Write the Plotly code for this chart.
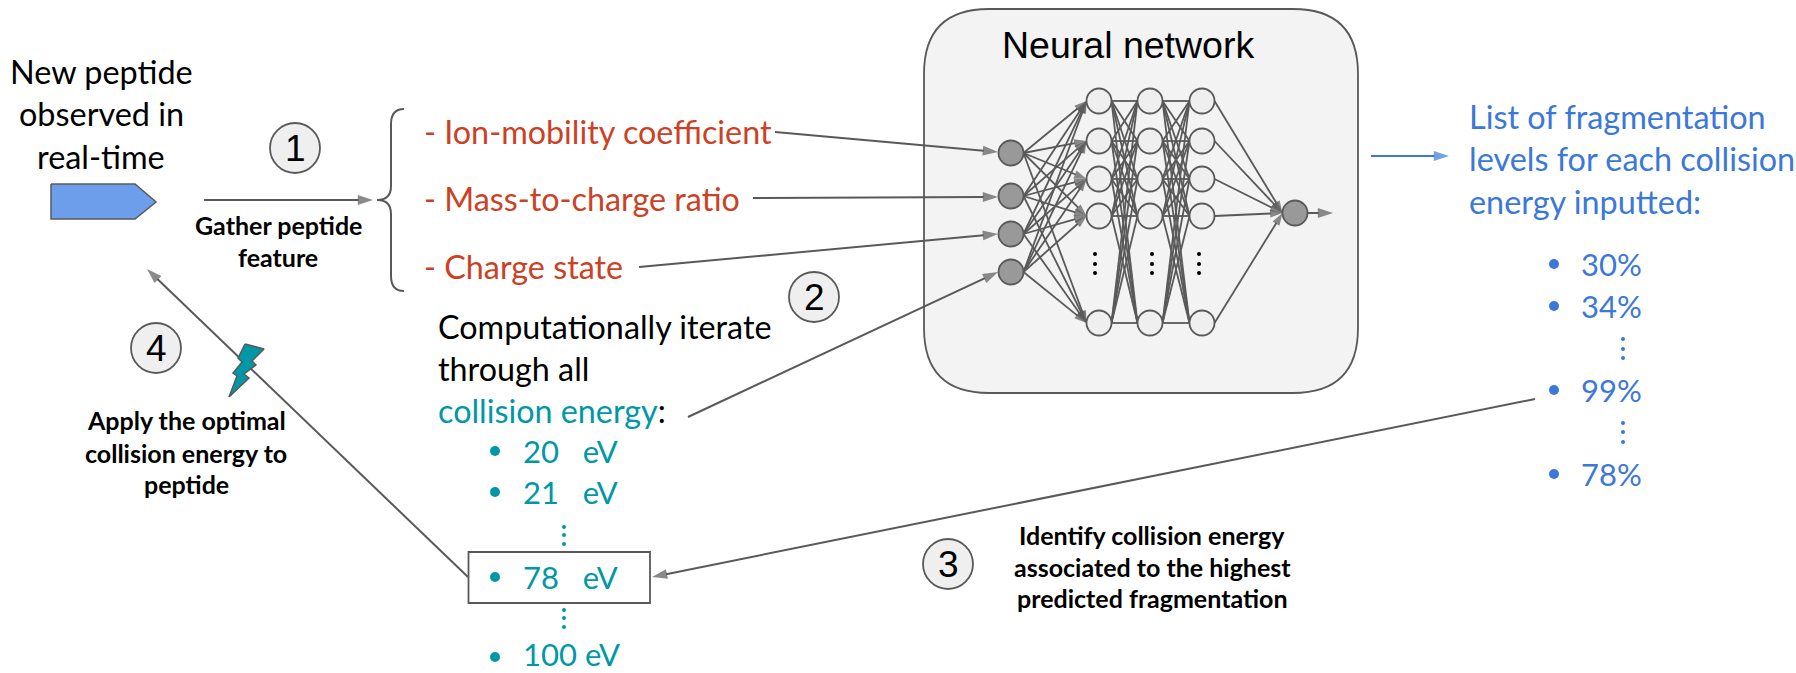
import plotly.graph_objects as go

W, H = 1796, 673
GREY = '#595959'
TEAL = '#0097a7'
BLUE = '#3c78d8'
RED = '#cc4125'
BODY_FONT = 'Lato'
SHAPE_FONT = 'Liberation Sans'

# network nodes
input_x = 1011
input_y = [153, 196, 234, 272]
hidden_x = [1099, 1150, 1202]
hidden_y = [101, 141, 179, 216, 323]
output_x = 1295
output_y = 213
node_r = 12.5

# text
peptide_lines = ['New peptide', 'observed in', 'real-time']
peptide_y = [71, 113, 156]
feature_lines = ['- Ion-mobility coefficient', '- Mass-to-charge ratio', '- Charge state']
feature_y = [131, 198, 266]
iterate_lines = ['Computationally iterate', 'through all',
                 f"<span style='color:{TEAL}'>collision energy</span>:"]
iterate_y = [326, 368, 410]
energy_labels = ['20\u00a0\u00a0\u00a0eV', '21\u00a0\u00a0\u00a0eV', '78\u00a0\u00a0\u00a0eV', '100\u00a0eV']
energy_y = [451, 492, 577, 654]
energy_bullet_y = [451, 492, 577, 657]
frag_lines = ['List of fragmentation', 'levels for each collision', 'energy inputted:']
frag_y = [116, 158, 201]
frag_labels = ['30%', '34%', '99%', '78%']
frag_label_y = [264, 306, 390, 474]
gather_lines = ['Gather peptide', 'feature']
gather_y = [225, 257]
apply_lines = ['Apply the optimal', 'collision energy to', 'peptide']
apply_y = [420, 453, 484]
identify_lines = ['Identify collision energy', 'associated to the highest', 'predicted fragmentation']
identify_y = [535, 567, 598]

# numbered steps
step_labels = ['1', '2', '3', '4']
step_x = [295, 814, 948, 156]
step_y = [148, 297, 564, 348]

# long connectors: x0, y0, x1, y1
grey_arrows = [
    (204, 200, 373, 200),
    (775, 132, 998, 152),
    (753, 198, 998, 197),
    (639, 267, 998, 234),
    (688, 417, 998, 272),
    (468, 577, 147, 269),
    (1535, 399, 652, 577),
    (1308, 213, 1333, 213),
]
blue_arrow = (1371, 156, 1449, 156)

bolt_x = [245, 264, 252, 256, 244, 249, 229, 237, 233, 242, 238, 245]
bolt_y = [344, 349, 361, 365, 374, 378, 397, 376, 373, 362, 358, 344]
pentagon_x = [51, 135, 156, 135, 51, 51]
pentagon_y = [184, 184, 202, 219, 219, 184]


def add_arrow(fig, x0, y0, x1, y1, color=GREY, width=2, size=16):
    fig.add_trace(go.Scatter(
        x=[x0, x1], y=[y0, y1],
        mode='lines+markers',
        line=dict(color=color, width=width),
        marker=dict(symbol='arrow', size=[0, size], angleref='previous',
                    color=color, line=dict(width=0)),
    ))


def add_lines(fig, xs, ys, width=1.8):
    fig.add_trace(go.Scatter(x=xs, y=ys, mode='lines',
                             line=dict(color=GREY, width=width)))


def add_nodes(fig, xs, ys, fill, size=2 * node_r):
    fig.add_trace(go.Scatter(x=xs, y=ys, mode='markers',
                             marker=dict(size=size, color=fill,
                                         line=dict(color=GREY, width=1.8))))


def add_dots(fig, xs, ys, color, size):
    fig.add_trace(go.Scatter(x=xs, y=ys, mode='markers',
                             marker=dict(size=size, color=color, line=dict(width=0))))


def add_text(fig, text, x, y, size, color='#000000', anchor='center', bold=False, font=BODY_FONT):
    if bold:
        text = f'<b>{text}</b>'
    fig.add_annotation(x=x, y=y, text=text, showarrow=False, xanchor=anchor, yanchor='middle',
                       font=dict(family=font, size=size, color=color))


fig = go.Figure()

# neural network panel
fig.add_shape(type='path', layer='below',
              path='M 989,9 L 1293,9 Q 1358,9 1358,74 L 1358,328 Q 1358,393 1293,393 '
                   'L 989,393 Q 924,393 924,328 L 924,74 Q 924,9 989,9 Z',
              fillcolor='#f3f3f3', line=dict(color=GREY, width=1.8))

# hidden-to-hidden edges
for a, b in zip(hidden_x[:-1], hidden_x[1:]):
    xs, ys = [], []
    for y0 in hidden_y:
        for y1 in hidden_y:
            xs += [a + node_r, b - node_r, None]
            ys += [y0, y1, None]
    add_lines(fig, xs, ys)

# input and output edges with arrow heads
for y0 in input_y:
    for y1 in hidden_y:
        add_arrow(fig, input_x + node_r, y0, hidden_x[0] - node_r, y1, width=1.8, size=13)
for y0 in hidden_y:
    add_arrow(fig, hidden_x[-1] + node_r, y0, output_x - node_r, output_y, width=1.8, size=13)

add_nodes(fig, [input_x] * len(input_y), input_y, '#999999')
for x in hidden_x:
    add_nodes(fig, [x] * len(hidden_y), hidden_y, '#efefef')
add_nodes(fig, [output_x], [output_y], '#999999')

# ellipsis between hidden rows
add_dots(fig, [1095] * 3 + [1152] * 3 + [1199] * 3, [254, 264, 273] * 3, '#000000', 4)

# connectors
for a in grey_arrows:
    add_arrow(fig, *a)
add_arrow(fig, *blue_arrow, color=BLUE)

# pentagon, bolt, brace, selected box
fig.add_trace(go.Scatter(x=pentagon_x, y=pentagon_y, mode='lines', fill='toself',
                         fillcolor='#6d9eeb', line=dict(color=GREY, width=1.5)))
fig.add_trace(go.Scatter(x=bolt_x, y=bolt_y, mode='lines', fill='toself',
                         fillcolor=TEAL, line=dict(color=GREY, width=1.5)))
fig.add_shape(type='path',
              path='M 404,109 Q 391,109 391,124 L 391,186 Q 391,200 377,200 '
                   'Q 391,200 391,214 L 391,276 Q 391,291 404,291',
              line=dict(color=GREY, width=2))
fig.add_shape(type='rect', x0=468.5, y0=552, x1=650, y1=603, line=dict(color=GREY, width=1.8))

# step circles
add_nodes(fig, step_x, step_y, '#efefef', size=50)
for lab, x, y in zip(step_labels, step_x, step_y):
    add_text(fig, lab, x, y, 37, font=SHAPE_FONT)

add_text(fig, 'Neural network', 1128, 45, 37.5, font=SHAPE_FONT)

for t, y in zip(peptide_lines, peptide_y):
    add_text(fig, t, 101, y, 32.4)
for t, y in zip(feature_lines, feature_y):
    add_text(fig, t, 422, y, 32.3, color=RED, anchor='left')
for t, y in zip(iterate_lines, iterate_y):
    add_text(fig, t, 436, y, 32.3, anchor='left')
for t, y in zip(frag_lines, frag_y):
    add_text(fig, t, 1467, y, 32.4, color=BLUE, anchor='left')
for t, y in zip(gather_lines, gather_y):
    add_text(fig, t, 278, y, 25, bold=True)
for t, y in zip(apply_lines, apply_y):
    add_text(fig, t, 186, y, 25, bold=True)
for t, y in zip(identify_lines, identify_y):
    add_text(fig, t, 1152, y, 25, bold=True)

# teal energy list
add_dots(fig, [495] * len(energy_bullet_y), energy_bullet_y, TEAL, 10)
for t, y in zip(energy_labels, energy_y):
    add_text(fig, t, 521, y, 31, color=TEAL, anchor='left')
add_dots(fig, [564] * 6, [527, 535, 544, 610, 618, 627], TEAL, 4)

# blue fragmentation list
add_dots(fig, [1554] * len(frag_label_y), frag_label_y, BLUE, 10)
for t, y in zip(frag_labels, frag_label_y):
    add_text(fig, t, 1579, y, 31, color=BLUE, anchor='left')
add_dots(fig, [1623] * 6, [339, 349, 358, 423, 432, 442], BLUE, 4)

fig.update_layout(
    width=W, height=H,
    margin=dict(l=0, r=0, t=0, b=0),
    paper_bgcolor='white', plot_bgcolor='white',
    showlegend=False,
    xaxis=dict(range=[0, W], visible=False, fixedrange=True),
    yaxis=dict(range=[H, 0], visible=False, fixedrange=True),
)

fig.write_html("out.html", config={'displayModeBar': False, 'staticPlot': True},
               post_script="document.body.style.margin='0';")
